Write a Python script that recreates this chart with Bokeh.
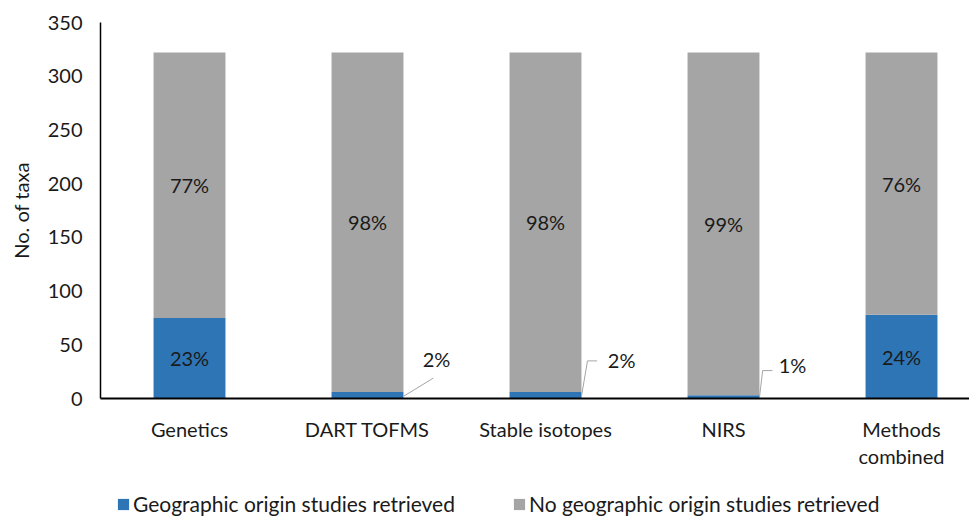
from bokeh.plotting import figure
from bokeh.layouts import column
from bokeh.models import Range1d, Legend, LegendItem, ColumnDataSource, FixedTicker
from bokeh.core.properties import value
from bokeh.embed import file_html
from bokeh.resources import INLINE

# ---- data ----
categories = ["Genetics", "DART TOFMS", "Stable isotopes", "NIRS", "Methods\ncombined"]
retrieved = [75, 6, 6, 3, 78]
not_retrieved = [247, 316, 316, 319, 244]
pct_retrieved = ["23%", "2%", "2%", "1%", "24%"]
pct_not = ["77%", "98%", "98%", "99%", "76%"]
y_ticks = [0, 50, 100, 150, 200, 250, 300, 350]
series_names = ["Geographic origin studies retrieved", "No geographic origin studies retrieved"]

# ---- style ----
BLUE = "#2E75B6"
GRAY = "#A5A5A5"
FONT = "Lato"
TXT = "#1a1a1a"
FS = "20px"

W = 969
H1, H2 = 474, 42
LEFT, TOP, FRAME_H = 100, 22, 376
PX_PER_CAT = 178

x = [i + 0.5 for i in range(len(categories))]
totals = [a + b for a, b in zip(retrieved, not_retrieved)]

p = figure(width=W, height=H1, output_backend="svg", toolbar_location=None,
           x_range=Range1d(0, (W - LEFT) / PX_PER_CAT), y_range=Range1d(0, 350),
           min_border_left=LEFT, min_border_right=0, min_border_top=TOP,
           min_border_bottom=H1 - TOP - FRAME_H)
p.outline_line_color = None
p.grid.visible = False
p.background_fill_color = "white"
p.border_fill_color = "white"

src = ColumnDataSource(dict(x=x, r=retrieved, t=totals))
p.vbar(x="x", width=0.404, bottom=0, top="r", source=src, fill_color=BLUE, line_color=None)
p.vbar(x="x", width=0.404, bottom="r", top="t", source=src, fill_color=GRAY, line_color=None)

# percent labels in grey segments
p.text(x=x, y=[(a + b) / 2 for a, b in zip(retrieved, totals)], text=pct_not,
       text_font=value(FONT), text_font_size=FS, text_color=TXT,
       text_align="center", text_baseline="middle")

# percent labels in blue segments (large) or callouts (small)
big = [i for i, v in enumerate(retrieved) if v > 20]
p.text(x=[x[i] for i in big], y=[retrieved[i] / 2 for i in big], text=[pct_retrieved[i] for i in big],
       text_font=value(FONT), text_font_size=FS, text_color=TXT,
       text_align="center", text_baseline="middle")

# callout layout: (leader elbow dx, elbow y, horizontal end dx, text dx, text y)
callout_layout = {1: (0.37, 19, 0.37, 0.31, 37),
                  2: (0.236, 35, 0.29, 0.35, 36),
                  3: (0.22, 26, 0.275, 0.31, 31)}
for i, (edx, ey, hdx, tdx, ty) in callout_layout.items():
    p.line([x[i] + 0.202, x[i] + edx, x[i] + hdx], [retrieved[i] / 3, ey, ey],
           line_color=GRAY, line_width=1)
    p.text(x=[x[i] + tdx], y=[ty], text=[pct_retrieved[i]],
           text_font=value(FONT), text_font_size=FS, text_color=TXT,
           text_align="left", text_baseline="middle")

# axes
p.yaxis.ticker = FixedTicker(ticks=y_ticks)
p.yaxis.axis_label = "No. of taxa"
p.yaxis.axis_label_text_font = FONT
p.yaxis.axis_label_text_font_size = FS
p.yaxis.axis_label_text_font_style = "normal"
p.yaxis.axis_label_text_color = TXT
p.yaxis.axis_label_standoff = 12
p.yaxis.major_label_text_font = FONT
p.yaxis.major_label_text_font_size = FS
p.yaxis.major_label_text_color = TXT
p.yaxis.major_tick_line_color = None
p.yaxis.minor_tick_line_color = None
p.yaxis.major_tick_out = 0
p.yaxis.major_label_standoff = 18
p.yaxis.axis_line_color = "black"
p.yaxis.axis_line_width = 1.5

p.xaxis.ticker = FixedTicker(ticks=x)
p.xaxis.major_label_overrides = {xv: c for xv, c in zip(x, categories)}
p.xaxis.major_label_text_font = FONT
p.xaxis.major_label_text_font_size = FS
p.xaxis.major_label_text_color = TXT
p.xaxis.major_label_text_line_height = 1.15
p.xaxis.major_tick_line_color = None
p.xaxis.minor_tick_line_color = None
p.xaxis.major_tick_out = 0
p.xaxis.major_label_standoff = 18
p.xaxis.axis_line_color = "black"
p.xaxis.axis_line_width = 2

# legend strip (dummy renderers sit outside the visible range)
p2 = figure(width=W, height=H2, output_backend="svg", toolbar_location=None,
            x_range=Range1d(0, 1), y_range=Range1d(0, 1),
            x_axis_location=None, y_axis_location=None, min_border=0)
p2.outline_line_color = None
p2.grid.visible = False
dummy = ColumnDataSource(dict(x=[-10], t=[-10]))
l1 = p2.vbar(x="x", top="t", width=1, source=dummy, fill_color=BLUE, line_color=None)
l2 = p2.vbar(x="x", top="t", width=1, source=dummy, fill_color=GRAY, line_color=None)
legend = Legend(items=[LegendItem(label=series_names[0], renderers=[l1]),
                       LegendItem(label=series_names[1], renderers=[l2])],
                orientation="horizontal", location=(16, 0),
                label_text_font=FONT, label_text_font_size="21px", label_text_color=TXT,
                glyph_width=14, glyph_height=14, label_standoff=3, spacing=57,
                padding=0, margin=0, border_line_color=None, background_fill_alpha=0)
p2.add_layout(legend, "center")

open("out.html", "w").write(file_html(column(p, p2, spacing=0), INLINE))
